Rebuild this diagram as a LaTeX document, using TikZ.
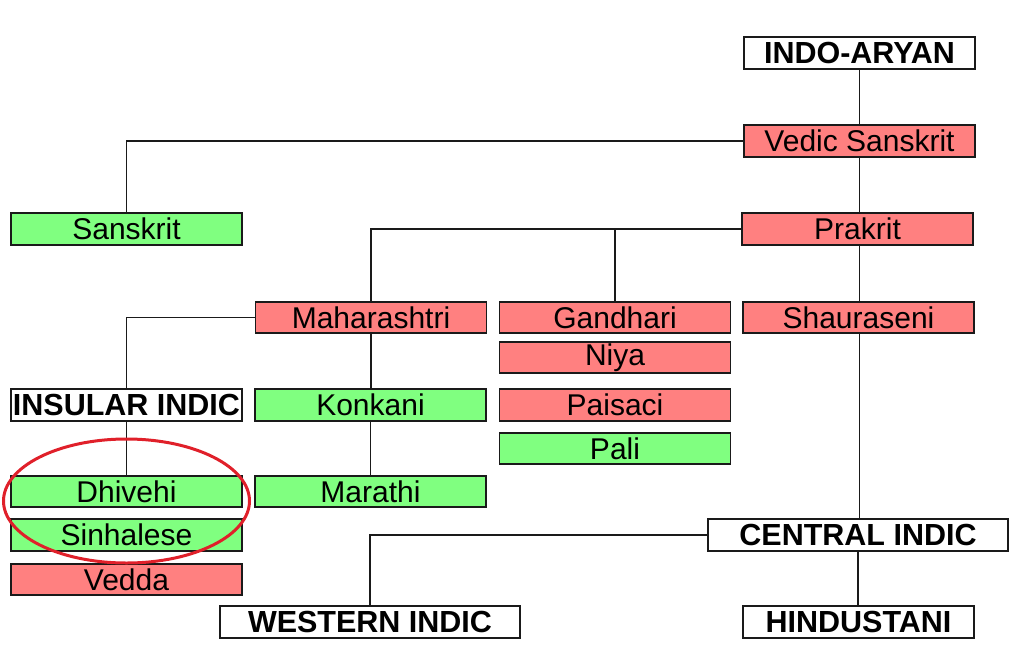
\documentclass[tikz,border=0pt]{standalone}
\usepackage{fontspec}
\setmainfont{Liberation Sans}
\definecolor{gfill}{HTML}{80FF80}
\definecolor{rfill}{HTML}{FF8080}
\definecolor{edge}{HTML}{1A1A1A}
\definecolor{ring}{HTML}{E0202A}
\begin{document}
\begin{tikzpicture}[x=1pt,y=-1pt,
  box/.style={draw=edge,line width=1.9pt,inner sep=0pt,minimum width=231pt,minimum height=31.5pt,
    font=\fontsize{30}{33}\selectfont},
  gbox/.style={box,fill=gfill},
  rbox/.style={box,fill=rfill},
  wbox/.style={box,fill=white,font=\fontsize{30.5}{33}\selectfont\bfseries},
  wide/.style={minimum width=300pt},
  link/.style={draw=edge,line width=1.9pt}]
\useasboundingbox (0,0) rectangle (1024,655);
\node[wbox] (indo) at (859.5,53) {INDO-ARYAN};
\node[rbox] (vedic) at (859.5,141) {Vedic Sanskrit};
\node[rbox] (prakrit) at (857.5,229) {Prakrit};
\node[gbox] (sanskrit) at (126.5,229) {Sanskrit};
\node[rbox] (mahar) at (371,317.5) {Maharashtri};
\node[rbox] (gandhari) at (615,317.5) {Gandhari};
\node[rbox] (shaur) at (858.5,317.5) {Shauraseni};
\node[rbox] (niya) at (615,357.5) {Niya};
\node[rbox] (paisaci) at (615,405) {Paisaci};
\node[gbox] (pali) at (615,448.5) {Pali};
\node[wbox] (insular) at (126.5,405) {INSULAR INDIC};
\node[gbox] (konkani) at (370.5,405) {Konkani};
\node[gbox] (dhivehi) at (126.5,491.5) {Dhivehi};
\node[gbox] (marathi) at (370.5,491.5) {Marathi};
\node[gbox] (sinhalese) at (126.5,535) {Sinhalese};
\node[rbox] (vedda) at (126.5,579.5) {Vedda};
\node[wbox,wide] (central) at (858,535) {CENTRAL INDIC};
\node[wbox,wide] (western) at (370,622) {WESTERN INDIC};
\node[wbox] (hindustani) at (858.5,622) {HINDUSTANI};
\path[link] (indo.south) -- (vedic.north);
\path[link] (vedic.west) -| (sanskrit.north);
\path[link] (vedic.south) -- (vedic.south |- prakrit.north);
\path[link] (prakrit.west) -| (mahar.north);
\path[link] (prakrit.west -| gandhari.north) -- (gandhari.north);
\path[link] (prakrit.south -| vedic.south) -- (shaur.north -| vedic.south);
\path[link] (shaur.south -| vedic.south) -- (central.north -| vedic.south);
\path[link] (mahar.west) -| (insular.north);
\path[link] (insular.south) -- (dhivehi.north);
\path[link] (mahar.south) -- (mahar.south |- konkani.north);
\path[link] (konkani.south) -- (konkani.south |- marathi.north);
\path[link] (central.west) -| (western.north);
\path[link] (central.south) -- (hindustani.north -| central.south);
\draw[ring,line width=3pt] (126.5,501) ellipse [x radius=123, y radius=62];
\end{tikzpicture}
\end{document}
